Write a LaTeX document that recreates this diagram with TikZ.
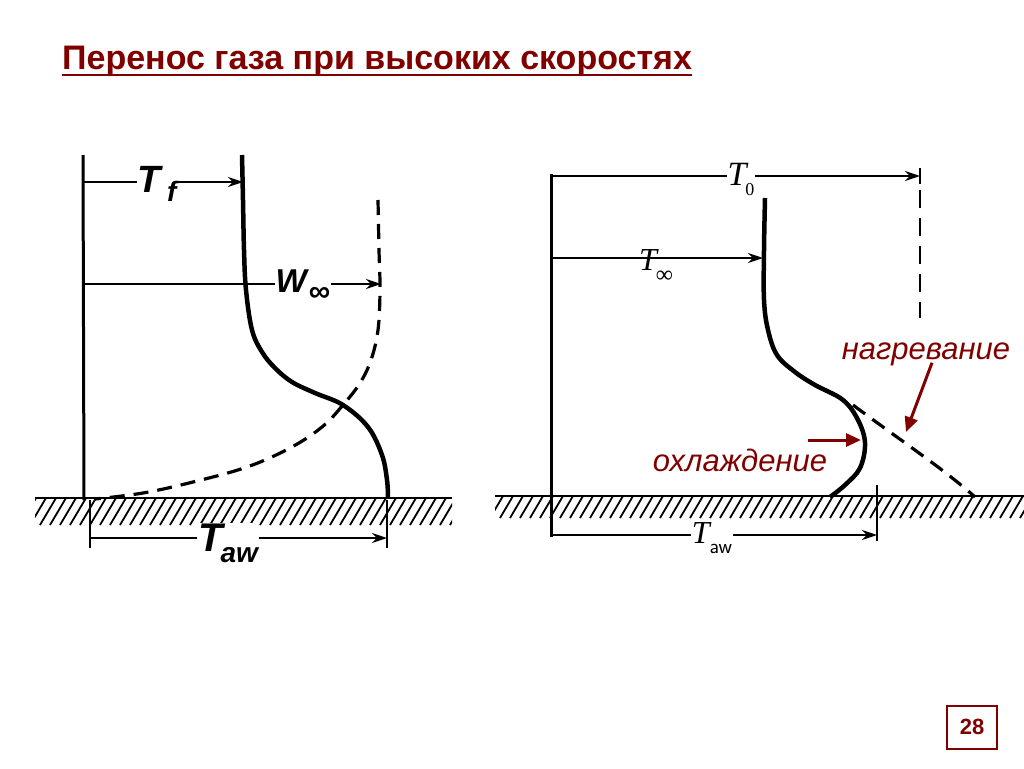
\documentclass[tikz,border=0pt]{standalone}
\usepackage{fontspec}
\setmainfont{Liberation Sans}
\newfontfamily\serif{Liberation Serif}
\usetikzlibrary{arrows.meta}
\definecolor{dred}{RGB}{128,0,0}
\begin{document}
\begin{tikzpicture}[x=1pt,y=-1pt,
  wall/.style={line width=3pt},
  dim/.style={line width=2.6pt,-{Stealth[length=15pt,width=10pt]}},
  prof/.style={line width=4.5pt},
  dprof/.style={line width=3.2pt,dash pattern=on 15pt off 9pt},
  hatchline/.style={line width=1.8pt},
  lab/.style={fill=white,inner sep=1pt},
  redarrow/.style={draw=dred,line width=3pt,-{Triangle[length=15pt,width=13pt]}},
  redlab/.style={text=dred,font=\fontsize{31}{34}\selectfont\itshape,inner sep=0pt}]
\useasboundingbox (0,0) rectangle (1024,768);
% title
\node[anchor=base west,text=dred,inner sep=0pt,font=\fontsize{34}{38}\selectfont\bfseries] (title) at (62,70) {Перенос газа при высоких скоростях};
\draw[dred,line width=2.6pt] ([yshift=-5pt]title.base west) -- ([yshift=-5pt]title.base east);
% page number
\node[draw=dred,line width=2pt,minimum width=50pt,minimum height=43pt,text=dred,font=\fontsize{22}{24}\selectfont\bfseries] (page) at (972,727) {28};

% ===== left diagram =====
\begin{scope}
\clip (35,498) rectangle (452,525);
\foreach \x in {20,30,...,470} \draw[hatchline] (\x,525) -- (\x+16,498);
\end{scope}
\draw[line width=2.6pt] (35,498) -- (452,498);
\coordinate (LwT) at (83,155);
\coordinate (LwB) at (84,500);
\draw[wall] (LwT) -- (LwB);
\coordinate (Lf0) at (83,182);
\coordinate (Lf1) at (243,182);
\draw[dim] (Lf0) -- (Lf1);
\coordinate (Lw0) at (83,284);
\coordinate (Lw1) at (381,284);
\draw[dim] (Lw0) -- (Lw1);
\coordinate (La0) at (90,538);
\coordinate (La1) at (387,538);
\draw[line width=2pt] (90,500) -- (90,548);
\draw[line width=2pt] (387,500) -- (387,548);
\draw[dim] (La0) -- (La1);
\draw[prof] plot[smooth,tension=0.6] coordinates {(242,155) (243,200) (244,250) (246,290) (252,330) (262,352) (275,368) (292,382) (315,393) (343,405) (368,427) (382,455) (387,480) (388,498)};
\draw[dprof] plot[smooth,tension=0.6] coordinates {(378,200) (379,250) (380,290) (378,330) (371,360) (360,383) (343,405) (322,427) (290,448) (247,467) (193,482) (143,493) (95,499)};
\node[lab] (Tf) at (157,184) {\fontsize{38}{38}\selectfont\bfseries\itshape T\,\raisebox{-9pt}{\fontsize{28}{28}\selectfont f}};
\node[lab] (Winf) at (303,286) {\fontsize{33}{33}\selectfont\bfseries\itshape W\kern2pt\raisebox{-9pt}{\fontsize{30}{30}\selectfont\upshape ∞}};
\node[lab] (Taw) at (228,543) {\fontsize{40}{40}\selectfont\bfseries\itshape T\kern-2pt\raisebox{-11pt}{\fontsize{28}{28}\selectfont aw}};

% ===== right diagram =====
\begin{scope}
\clip (495,496) rectangle (1024,518);
\foreach \x in {480,490,...,1030} \draw[hatchline] (\x,518) -- (\x+13,496);
\end{scope}
\draw[line width=2.6pt] (495,496) -- (1024,496);
\coordinate (RwT) at (551,174);
\coordinate (RwB) at (551,537);
\draw[wall] (RwT) -- (RwB);
\coordinate (R00) at (551,176);
\coordinate (R01) at (920,176);
\draw[dim] (R00) -- (R01);
\draw[line width=2pt] (920,168) -- (920,184);
\draw[line width=2.8pt,dash pattern=on 18pt off 10pt] (920,190) -- (920,318);
\coordinate (Ri0) at (551,258);
\coordinate (Ri1) at (763,258);
\draw[dim] (Ri0) -- (Ri1);
\coordinate (Ra0) at (551,535);
\coordinate (Ra1) at (877,535);
\draw[line width=2pt] (877,485) -- (877,541);
\draw[dim] (Ra0) -- (Ra1);
\draw[prof] plot[smooth,tension=0.6] coordinates {(765,198) (764,250) (764,300) (768,330) (777,355) (795,372) (815,385) (843,400) (858,420) (865,443) (860,468) (845,485) (830,497)};
\draw[dprof] (853,405) .. controls (900,440) and (945,470) .. (975,497);
\node[lab] (T0) at (741,179) {\serif\fontsize{34}{34}\selectfont\itshape T\kern-1pt\raisebox{-10pt}{\fontsize{18}{18}\selectfont\upshape 0}};
\node[inner sep=0pt] (Tinf) at (656,266) {\serif\fontsize{32}{32}\selectfont\itshape T\kern-1pt\raisebox{-12pt}{\fontsize{24}{24}\selectfont\upshape ∞}};
\node[lab] (Taw2) at (712,538) {\serif\fontsize{32}{32}\selectfont\itshape T\kern0pt\raisebox{-10pt}{\sffamily\fontsize{21}{21}\selectfont\upshape aw}};

% red labels
\node[redlab] (heat) at (926,354) {нагревание};
\node[redlab] (cool) at (740,460) {охлаждение};
\coordinate (heatTip) at (906,432);
\coordinate (coolTip) at (861,440);
\draw[redarrow] ([xshift=6pt,yshift=3pt]heat.south) -- (heatTip);
\draw[redarrow] (808,440) -- (coolTip);
\end{tikzpicture}
\end{document}
